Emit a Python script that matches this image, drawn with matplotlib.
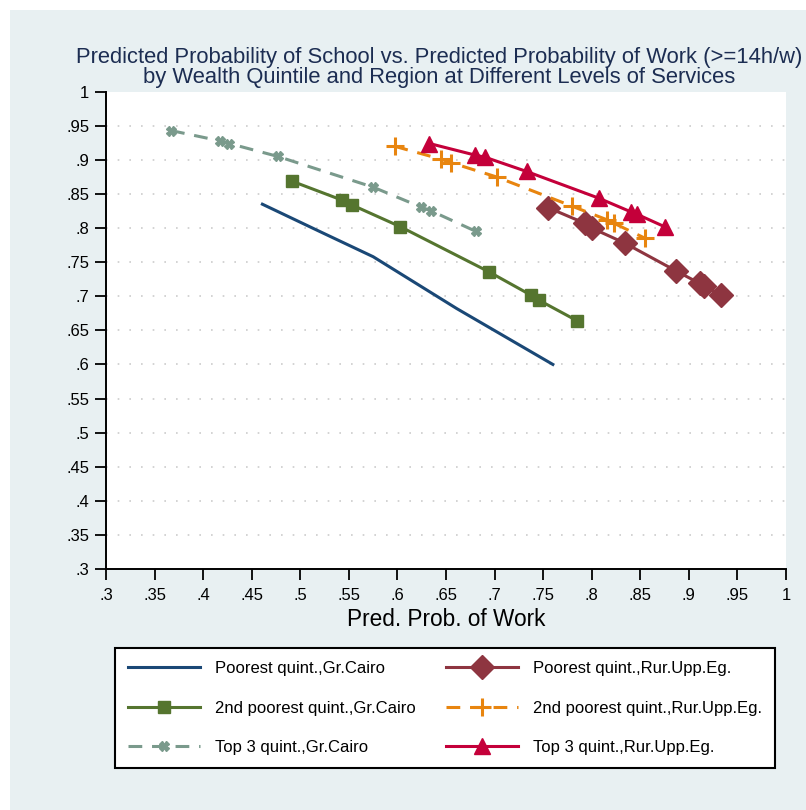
import matplotlib
matplotlib.use('Agg')
import matplotlib.pyplot as plt
from matplotlib.patches import Rectangle
from matplotlib.ticker import FuncFormatter

plt.rcParams['font.family'] = ['Liberation Sans', 'DejaVu Sans']

# predicted probabilities (work, school) by quintile and region
poor_cairo_work = [0.461, 0.520, 0.575, 0.661, 0.760]
poor_cairo_school = [0.835, 0.795, 0.758, 0.682, 0.600]

second_cairo_work = [0.491, 0.543, 0.553, 0.603, 0.694, 0.737, 0.746, 0.785]
second_cairo_school = [0.869, 0.841, 0.834, 0.802, 0.736, 0.702, 0.694, 0.664]

top_cairo_work = [0.367, 0.417, 0.427, 0.477, 0.575, 0.624, 0.635, 0.681]
top_cairo_school = [0.943, 0.928, 0.924, 0.905, 0.860, 0.831, 0.825, 0.795]

poor_rural_work = [0.755, 0.793, 0.800, 0.834, 0.887, 0.911, 0.916, 0.933]
poor_rural_school = [0.830, 0.807, 0.800, 0.778, 0.737, 0.719, 0.715, 0.702]

second_rural_work = [0.597, 0.645, 0.655, 0.702, 0.780, 0.816, 0.823, 0.855]
second_rural_school = [0.920, 0.901, 0.896, 0.875, 0.832, 0.812, 0.807, 0.785]

top_rural_work = [0.633, 0.680, 0.690, 0.733, 0.807, 0.840, 0.847, 0.875]
top_rural_school = [0.924, 0.907, 0.904, 0.883, 0.844, 0.824, 0.820, 0.802]

ticks = [0.3, 0.35, 0.4, 0.45, 0.5, 0.55, 0.6, 0.65, 0.7, 0.75, 0.8, 0.85, 0.9, 0.95, 1.0]


def stata_fmt(v, pos):
    s = f'{v:.2f}'.rstrip('0').rstrip('.')
    if s.startswith('0'):
        s = s[1:]
    return s


W, H = 806, 810
fig = plt.figure(figsize=(W / 100, H / 100), dpi=100)
fig.patch.set_facecolor('white')
fig.patches.append(Rectangle((10 / W, 0), 796 / W, 800 / H, transform=fig.transFigure,
                             facecolor='#e8f0f2', edgecolor='none', zorder=-10))

ax = fig.add_axes([106 / W, 1 - 569 / H, 680 / W, (569 - 91.7) / H])
ax.set_facecolor('white')
ax.set_xlim(0.3, 1)
ax.set_ylim(0.3, 1)

ax.hlines(ticks[1:-1], 0.3, 1, colors='#cccccc', linestyles=(0, (1, 6)), linewidth=1.2, zorder=1)

lw = 2.2
ax.plot(poor_cairo_work, poor_cairo_school, color='#1a4876', lw=lw,
        label='Poorest quint.,Gr.Cairo', zorder=3)
ax.plot(second_cairo_work, second_cairo_school, color='#55752f', lw=lw, marker='s', ms=9,
        label='2nd poorest quint.,Gr.Cairo', zorder=3)
ax.plot(top_cairo_work, top_cairo_school, color='#7a9a8c', lw=lw, dashes=(4.5, 3.2),
        marker='X', ms=7, label='Top 3 quint.,Gr.Cairo', zorder=3)
ax.plot(poor_rural_work, poor_rural_school, color='#8e3540', lw=lw, marker='D', ms=12,
        label='Poorest quint.,Rur.Upp.Eg.', zorder=3)
ax.plot(second_rural_work, second_rural_school, color='#e8850f', lw=lw, dashes=(4.5, 3.2),
        marker='+', ms=13, mew=2.2, label='2nd poorest quint.,Rur.Upp.Eg.', zorder=3)
ax.plot(top_rural_work, top_rural_school, color='#c4003a', lw=lw, marker='^', ms=12,
        label='Top 3 quint.,Rur.Upp.Eg.', zorder=3)

ax.set_xticks(ticks)
ax.set_yticks(ticks)
ax.xaxis.set_major_formatter(FuncFormatter(stata_fmt))
ax.yaxis.set_major_formatter(FuncFormatter(stata_fmt))
ax.tick_params(axis='both', direction='out', length=8, width=1.3, labelsize=12, colors='black')
ax.tick_params(axis='y', pad=4)
ax.tick_params(axis='x', pad=6)
for side in ['top', 'right']:
    ax.spines[side].set_visible(False)
for side in ['left', 'bottom']:
    ax.spines[side].set_linewidth(1.4)
    ax.spines[side].set_color('black')

fig.text(439 / W, 1 - 57 / H,
         'Predicted Probability of School vs. Predicted Probability of Work (>=14h/w)',
         ha='center', va='center', fontsize=15.8, color='#1c2d52')
fig.text(439 / W, 1 - 77.5 / H,
         'by Wealth Quintile and Region at Different Levels of Services',
         ha='center', va='center', fontsize=15.8, color='#1c2d52')
fig.text(446 / W, 1 - 620 / H, 'Pred. Prob. of Work', ha='center', va='center',
         fontsize=16.3, color='black')

leg = fig.legend(loc='center', bbox_to_anchor=(115 / W, 1 - 772 / H, 660 / W, 128 / H),
                 mode='expand', ncol=2, fontsize=12, frameon=True, fancybox=False,
                 framealpha=1, handlelength=4.3, handletextpad=0.9, labelspacing=1.45,
                 borderpad=0.8, borderaxespad=0)
leg.get_frame().set_edgecolor('black')
leg.get_frame().set_linewidth(1.5)
leg.get_frame().set_facecolor('white')

fig.savefig('out.png', dpi=100, facecolor=fig.get_facecolor())
